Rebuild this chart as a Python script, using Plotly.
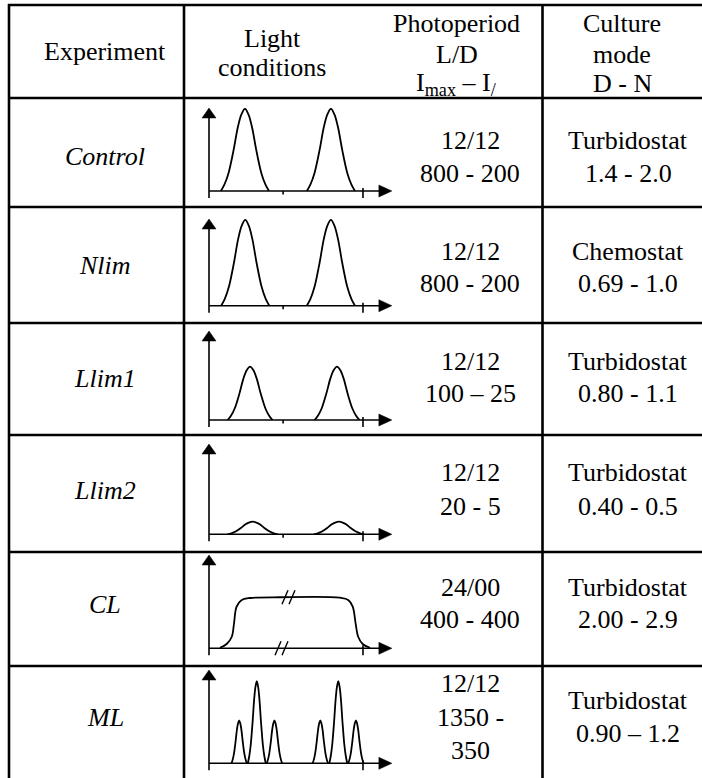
import plotly.graph_objects as go

W, H = 702, 778
FONT = "'Liberation Serif', 'Times New Roman', Times, serif"
FS = 26

# ---------------- table text ----------------
header_experiment = "Experiment"
header_light = ["Light", "conditions"]
header_photo = ["Photoperiod", "L/D", "I<sub>max</sub> – I<sub>/</sub>"]
header_culture = ["Culture", "mode", "D - N"]

experiments = ["Control", "Nlim", "Llim1", "Llim2", "CL", "ML"]
photoperiod = [
    ["12/12", "800 - 200"],
    ["12/12", "800 - 200"],
    ["12/12", "100 – 25"],
    ["12/12", "20 - 5"],
    ["24/00", "400 - 400"],
    ["12/12", "1350 -", "350"],
]
culture_mode = [
    ["Turbidostat", "1.4 - 2.0"],
    ["Chemostat", "0.69 - 1.0"],
    ["Turbidostat", "0.80 - 1.1"],
    ["Turbidostat", "0.40 - 0.5"],
    ["Turbidostat", "2.00 - 2.9"],
    ["Turbidostat", "0.90 – 1.2"],
]

# ------------- light-condition schematics -------------
# time in hours, intensity in % of the y-axis height
peak_centers = {
    "Control": [11.2, 38.0],
    "Nlim": [11.3, 38.0],
    "Llim1": [12.8, 39.9],
    "Llim2": [13.6, 40.5],
    "ML": [9.4, 14.9, 20.4, 34.7, 40.3, 45.8],
}
peak_halfwidths = {
    "Control": [7.5, 7.5],
    "Nlim": [7.5, 7.5],
    "Llim1": [7.0, 7.0],
    "Llim2": [7.8, 7.8],
    "ML": [2.4, 2.8, 2.4, 2.4, 2.8, 2.4],
}
peak_heights = {
    "Control": [99, 99],
    "Nlim": [99, 99],
    "Llim1": [60, 60],
    "Llim2": [14, 14],
    "ML": [46, 88, 46, 46, 88, 46],
}
# shape of one peak (fraction of half-width, fraction of height)
peak_profile_u = [-1.0, -0.85, -0.68, -0.47, -0.30, -0.15, 0.0, 0.15, 0.30, 0.47, 0.68, 0.85, 1.0]
peak_profile_v = [0.0, 0.08, 0.22, 0.50, 0.77, 0.93, 1.0, 0.93, 0.77, 0.50, 0.22, 0.08, 0.0]

# continuous light (CL) curve
cl_time = [3.4, 5.5, 7.1, 7.8, 8.6, 10.2, 12.8, 22.1, 40.8, 43.4, 44.8, 45.7, 46.5, 47.9, 50.2]
cl_level = [0.6, 4.6, 12.4, 26.8, 44.6, 51.8, 53.9, 54.7, 54.2, 51.8, 44.6, 26.8, 12.4, 4.6, 0.6]

mid_tick_time = 23.1
end_tick_time = 48.0
time_axis_max = 57.0

# ---------------- geometry (pixels) ----------------
ROW_Y = [5, 98, 207, 323, 435, 552, 666]
COL_X = [9, 184, 542.5]
AX_X0 = 209.0
PX_PER_H = 3.208
AX_X1 = AX_X0 + time_axis_max * PX_PER_H
BASE = [191, 305.7, 420, 534.3, 648.3, 763.3]
TIP = [108, 219, 331, 444, 555, 670]

LABEL_Y = [156, 265, 378, 490, 604, 717]
PHOTO_Y = [[141, 173], [251, 283], [361, 393], [473, 506], [587, 619], [683, 717, 750]]
CULT_Y = [[141, 173], [251, 283], [361, 393], [473, 506], [587, 619], [700, 733]]
X_LABEL, X_LIGHT, X_PHOTO_H, X_PHOTO, X_CULT_H, X_CULT = 105, 272, 457, 470, 622, 628


def px(x):
    return x / W


def py(y):
    return 1 - y / H


def tpx(t):
    return AX_X0 + t * PX_PER_H


shapes = []


def seg(x0, y0, x1, y1, w=1.5):
    shapes.append(dict(type="line", xref="paper", yref="paper",
                       x0=px(x0), y0=py(y0), x1=px(x1), y1=py(y1),
                       line=dict(color="black", width=w)))


def tri(pts):
    path = "M " + " L ".join(f"{px(a)},{py(b)}" for a, b in pts) + " Z"
    shapes.append(dict(type="path", xref="paper", yref="paper", path=path,
                       fillcolor="black", line=dict(color="black", width=0.5)))


# table grid
for y in ROW_Y:
    seg(COL_X[0] - 1, y, W + 2, y, 2.6)
for x in COL_X:
    seg(x, ROW_Y[0] - 1, x, H + 2, 2.6)

fig = go.Figure()
layout_axes = {}

for i, name in enumerate(experiments):
    k = i + 1
    sx = "" if k == 1 else str(k)
    base, tip = BASE[i], TIP[i]
    layout_axes["xaxis" + sx] = dict(domain=[px(AX_X0), px(AX_X1)], range=[0, time_axis_max],
                                     visible=False, fixedrange=True, anchor="y" + sx)
    layout_axes["yaxis" + sx] = dict(domain=[py(base), py(tip)], range=[0, 100],
                                     visible=False, fixedrange=True, anchor="x" + sx)

    # curves
    if name == "CL":
        fig.add_trace(go.Scatter(x=cl_time, y=cl_level, mode="lines",
                                 line=dict(color="black", width=1.8, shape="spline", smoothing=1.0),
                                 xaxis="x" + sx, yaxis="y" + sx, hoverinfo="skip"))
    else:
        for c, hw, hgt in zip(peak_centers[name], peak_halfwidths[name], peak_heights[name]):
            xs = [c + u * hw for u in peak_profile_u]
            ys = [v * hgt for v in peak_profile_v]
            fig.add_trace(go.Scatter(x=xs, y=ys, mode="lines",
                                     line=dict(color="black", width=1.8, shape="spline", smoothing=0.9),
                                     xaxis="x" + sx, yaxis="y" + sx, hoverinfo="skip"))

    # axes with arrows
    seg(AX_X0, base + 7, AX_X0, tip + 9, 1.6)          # y axis (with lower stub)
    tri([(AX_X0, tip), (AX_X0 - 7, tip + 10), (AX_X0 + 7, tip + 10)])
    seg(AX_X0, base, AX_X1 - 11, base, 1.6)             # x axis
    tri([(AX_X1, base), (AX_X1 - 13, base - 6), (AX_X1 - 13, base + 6)])
    seg(tpx(end_tick_time), base - 3, tpx(end_tick_time), base + 7, 1.6)
    if name == "CL":
        # axis break marks
        for dx in (0, 7):
            seg(275 + dx, base + 7, 281 + dx, base - 7, 1.4)
        plat = BASE[i] - (cl_level[7] / 100) * (BASE[i] - TIP[i])
        for dx in (0, 7):
            seg(282 + dx, plat + 7, 288 + dx, plat - 7, 1.4)
    elif name != "ML":
        seg(tpx(mid_tick_time), base, tpx(mid_tick_time), base + 3.5, 1.6)

# ---------------- annotations ----------------
ann = []


def text(x, y, s, italic=False):
    ann.append(dict(xref="paper", yref="paper", x=px(x), y=py(y), text=s, showarrow=False,
                    xanchor="center", yanchor="middle",
                    font=dict(family=FONT, size=FS, color="black",
                              style="italic" if italic else "normal")))


text(X_LABEL, 52, header_experiment)
for s, y in zip(header_light, [38, 67]):
    text(X_LIGHT, y, s)
for s, y in zip(header_photo, [24, 54, 84]):
    text(X_PHOTO_H, y, s)
for s, y in zip(header_culture, [24, 54, 84]):
    text(X_CULT_H, y, s)

for i, name in enumerate(experiments):
    text(X_LABEL, LABEL_Y[i], name, italic=True)
    for s, y in zip(photoperiod[i], PHOTO_Y[i]):
        text(X_PHOTO, y, s)
    for s, y in zip(culture_mode[i], CULT_Y[i]):
        text(X_CULT, y, s)

fig.update_layout(width=W, height=H, margin=dict(l=0, r=0, t=0, b=0),
                  paper_bgcolor="white", plot_bgcolor="rgba(0,0,0,0)",
                  font=dict(family=FONT, size=FS, color="black"),
                  showlegend=False, shapes=shapes, annotations=ann, **layout_axes)

fig.write_html("out.html", config={"displayModeBar": False},
               post_script="document.body.style.margin='0px';document.body.style.overflow='hidden';")
